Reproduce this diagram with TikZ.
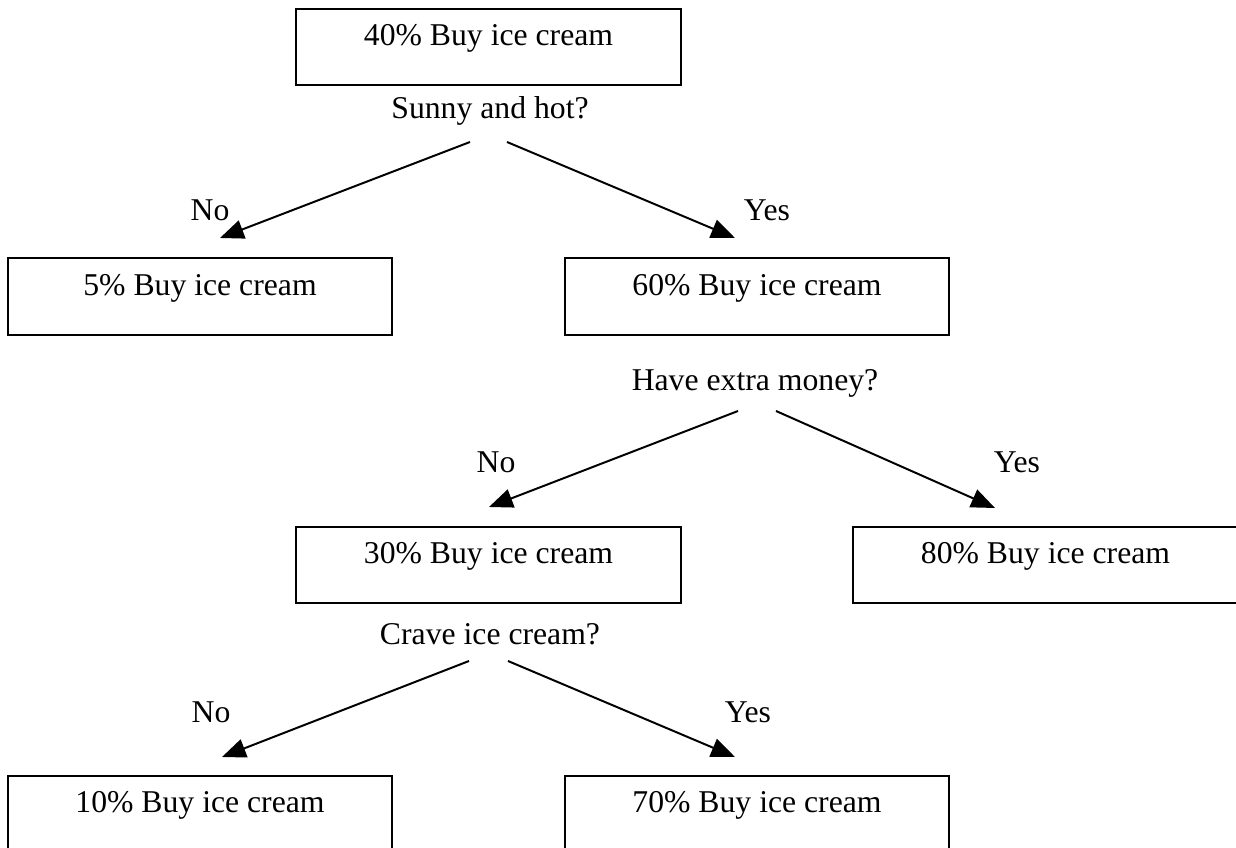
\documentclass[tikz,border=0pt]{standalone}
\usepackage{fontspec}
\setmainfont{Liberation Serif}
\usetikzlibrary{arrows.meta}
\tikzset{box/.style={draw=black, line width=0.75pt, minimum width=145.7pt, minimum height=28.8pt,
  text height=12.1pt, text depth=12.9pt, inner ysep=1.9pt, inner xsep=0pt, font=\fontsize{12}{14}\selectfont},
txt/.style={inner sep=0pt, font=\fontsize{12}{14}\selectfont},
%filled triangle heads
arr/.style={-{Triangle[length=9pt,width=7.2pt]}, line width=0.75pt}}
\begin{document}
\begin{tikzpicture}[x=0.3785pt,y=-0.3785pt]

\useasboundingbox (0,0) rectangle (1236,848);

\node[box] (b40) at (488.5,47) {40\% Buy ice cream};
\node[box] (b5) at (200,296.5) {5\% Buy ice cream};
\node[box] (b60) at (757,296.5) {60\% Buy ice cream};
\node[box] (b30) at (488.5,565) {30\% Buy ice cream};
\node[box] (b80) at (1045.5,565) {80\% Buy ice cream};
\node[box] (b10) at (200,814) {10\% Buy ice cream};
\node[box] (b70) at (757,814) {70\% Buy ice cream};

\node[txt] (q1) at (490,111) {Sunny and hot?};
\node[txt] (q2) at (755,383) {Have extra money?};
\node[txt] (q3) at (490,634) {Crave ice cream?};

\node[txt] (n1) at (210,210) {No};
\node[txt] (y1) at (767,210) {Yes};
\node[txt] (n2) at (496,462) {No};
\node[txt] (y2) at (1017,462) {Yes};
\node[txt] (n3) at (211,712) {No};
\node[txt] (y3) at (748,712) {Yes};

\coordinate (a1) at (470,142);
\coordinate (a2) at (507,142);
\coordinate (a3) at (738,411);
\coordinate (a4) at (776,411);
\coordinate (a5) at (469,661);
\coordinate (a6) at (508,661);

\coordinate (t1) at (220,238);
\coordinate (t2) at (735,238);
\coordinate (t3) at (489,507);
\coordinate (t4) at (995,508);
\coordinate (t5) at (222,757);
\coordinate (t6) at (735,757);

\foreach \i in {1,...,6}
    \draw[arr] (a\i) -- (t\i);

\end{tikzpicture}
\end{document}
